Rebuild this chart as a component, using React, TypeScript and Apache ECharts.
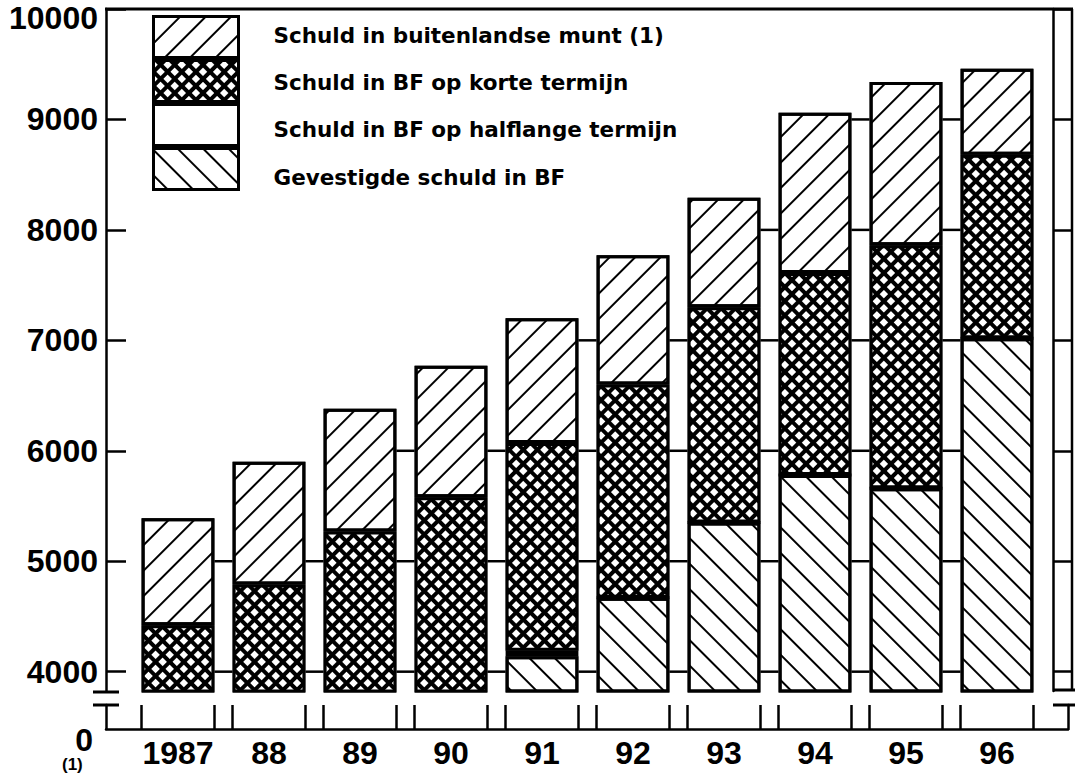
import React, { useEffect, useRef } from 'react';
import * as echarts from 'echarts';

// ---------- data ----------
const categories = ['1987', '88', '89', '90', '91', '92', '93', '94', '95', '96'];
const nameBuiten = 'Schuld in buitenlandse munt (1)';
const nameKort = 'Schuld in BF op korte termijn';
const nameHalf = 'Schuld in BF op halflange termijn';
const nameGevest = 'Gevestigde schuld in BF';
const legendOrder = [nameBuiten, nameKort, nameHalf, nameGevest];

const gevestigde = [3300, 3450, 3600, 3750, 4140, 4670, 5350, 5780, 5660, 7020];
const halflange = [0, 0, 0, 0, 50, 0, 0, 0, 0, 0];
const korte = [1120, 1340, 1670, 1830, 1880, 1930, 1950, 1830, 2200, 1660];
const buitenlandse = [970, 1110, 1110, 1190, 1130, 1170, 990, 1450, 1480, 780];

const yTickValues = [4000, 5000, 6000, 7000, 8000, 9000, 10000];
const zeroTick = [0];
const footnote = '(1)';

// ---------- layout / style ----------
const FONT = 'Liberation Sans';
const LEGEND_FONT = 'DejaVu Sans';
const STROKE = 2.5;
const AXIS_X = 106;
const PLOT_L = 132.5;
const PLOT_R = 1042.5;
const RIGHT_AXIS_X = 1053;
const OUTER_X = 1072;
const TOP_Y = 9;
const MAIN_BOTTOM_Y = 691;
const Y_MIN = 3825;
const Y_MAX = 10000;
const LOWER_TOP_Y = 705;
const BASE_Y = 729;
const BASE_RIGHT_X = 1068;
const BAR_FRAC = 0.8;
const W = 1075;
const H = 776;
// vertical text nudges of legend rows [top, bottom] padding
const LEGEND_PADS = [[0, 4], [2, 0], [8, 0], [16, 0]];

const band = (PLOT_R - PLOT_L) / categories.length;
const c0 = PLOT_L + band / 2;
const xMinLower = -(c0 - AXIS_X) / band;
const xMaxLower = (BASE_RIGHT_X - c0) / band;

const decalSlash = {
  symbol: 'rect', symbolSize: 1, color: '#000', backgroundColor: '#fff',
  dashArrayX: [1, 0], dashArrayY: [2, 16], rotation: -Math.PI / 4,
};
const decalBack = { ...decalSlash, rotation: Math.PI / 4 };
const decalCross = {
  symbol: 'rect', symbolSize: 1, color: '#fff', backgroundColor: '#000',
  dashArrayX: [6, 4], dashArrayY: [6, 4], rotation: Math.PI / 4,
};

function buildOption() {
  const totals = categories.map((_, i) => gevestigde[i] + halflange[i] + korte[i] + buitenlandse[i]);
  const connectorData = categories.slice(0, -1).map((_, i) => [i, Math.min(totals[i], totals[i + 1])]);
  const edgeTicks: number[] = [];
  const centerTicks: number[] = [];
  categories.forEach((_, i) => {
    edgeTicks.push(i - BAR_FRAC / 2, i + BAR_FRAC / 2);
    centerTicks.push(i);
  });

  const barBase = (name: string, data: number[], decal: any, fill: string) => ({
    name,
    type: 'bar',
    stack: 'total',
    xAxisIndex: 0,
    yAxisIndex: 0,
    barWidth: `${BAR_FRAC * 100}%`,
    data,
    z: 3,
    silent: true,
    itemStyle: { color: fill, borderColor: '#000', borderWidth: 3, decal: decal || undefined },
  });

  const labelStyle = { fontFamily: FONT, fontSize: 32, fontWeight: 'bold', color: '#000' };
  const axisLine = { show: true, onZero: false, lineStyle: { color: '#000', width: STROKE } };
  const legendFont = { fontFamily: LEGEND_FONT, fontWeight: 'bold', fontSize: 21.5, color: '#000' };
  const legendRich: Record<string, any> = {};
  LEGEND_PADS.forEach(([t, b], k) => {
    legendRich[`k${k}`] = { ...legendFont, padding: [t, 0, b, 30] };
  });

  return {
    animation: false,
    backgroundColor: '#fff',
    grid: [
      { left: PLOT_L, right: W - PLOT_R, top: TOP_Y, bottom: H - MAIN_BOTTOM_Y },
      { left: AXIS_X, right: W - BASE_RIGHT_X, top: LOWER_TOP_Y, bottom: H - BASE_Y },
    ],
    legend: {
      orient: 'vertical', left: 152, top: 15, padding: 0, itemGap: 0,
      itemWidth: 85, itemHeight: 41, icon: 'rect', selectedMode: false,
      data: legendOrder,
      formatter: (name: string) => `{k${Math.max(0, legendOrder.indexOf(name))}|${name}}`,
      itemStyle: { borderColor: '#000', borderWidth: 3 },
      textStyle: { ...legendFont, rich: legendRich },
    },
    xAxis: [
      {
        type: 'category', gridIndex: 0, data: categories,
        axisLine: { show: false, onZero: false }, axisTick: { show: false }, axisLabel: { show: false }, splitLine: { show: false },
      },
      {
        type: 'value', gridIndex: 1, min: xMinLower, max: xMaxLower,
        axisLine,
        axisTick: { show: true, inside: true, length: BASE_Y - LOWER_TOP_Y, customValues: edgeTicks, lineStyle: { color: '#000', width: STROKE } },
        axisLabel: {
          ...labelStyle, margin: 8, customValues: centerTicks,
          formatter: (v: number) => categories[Math.round(v)] ?? '',
        },
        splitLine: { show: false },
      },
    ],
    yAxis: [
      {
        type: 'value', gridIndex: 0, position: 'left', min: Y_MIN, max: Y_MAX, offset: PLOT_L - AXIS_X,
        axisLine,
        axisTick: { show: true, inside: true, length: 20, customValues: yTickValues, lineStyle: { color: '#000', width: STROKE } },
        axisLabel: {
          ...labelStyle, margin: 8, customValues: yTickValues,
          formatter: (v: number) => (v === Y_MAX ? `{t|${v}}` : `${v}`),
          rich: { t: { ...labelStyle, padding: [18, 0, 0, 0] } },
        },
        splitLine: { show: false },
      },
      {
        type: 'value', gridIndex: 0, position: 'right', min: Y_MIN, max: Y_MAX, offset: RIGHT_AXIS_X - PLOT_R,
        axisLine,
        axisTick: { show: true, inside: false, length: OUTER_X - RIGHT_AXIS_X, customValues: yTickValues, lineStyle: { color: '#000', width: STROKE } },
        axisLabel: { show: false },
        splitLine: { show: false },
      },
      {
        type: 'value', gridIndex: 1, position: 'left', min: 0, max: 1,
        axisLine,
        axisTick: { show: false },
        axisLabel: {
          ...labelStyle, margin: 8, customValues: zeroTick,
          formatter: (v: number) => `{z|${v}}`,
          rich: { z: { ...labelStyle, padding: [22, 5, 0, 0] } },
        },
        splitLine: { show: false },
      },
      {
        type: 'value', gridIndex: 1, position: 'right', min: 0, max: 1,
        axisLine, axisTick: { show: false }, axisLabel: { show: false }, splitLine: { show: false },
      },
    ],
    series: [
      {
        type: 'custom', name: 'gridlines', xAxisIndex: 0, yAxisIndex: 0, silent: true, z: 1,
        data: connectorData,
        renderItem: (params: any, api: any) => {
          const i = api.value(0) as number;
          const lvl = api.value(1) as number;
          const bw = api.size([1, 0])[0];
          const half = (bw * BAR_FRAC) / 2;
          const xa = api.coord([i, Y_MIN])[0] + half;
          const xb = api.coord([i + 1, Y_MIN])[0] - half;
          const children = yTickValues.filter((v) => v <= lvl).map((v) => {
            const y = api.coord([i, v])[1];
            return { type: 'line', shape: { x1: xa, y1: y, x2: xb, y2: y }, style: { stroke: '#000', lineWidth: STROKE } };
          });
          return { type: 'group', children };
        },
      },
      barBase(nameGevest, gevestigde, decalBack, '#fff'),
      barBase(nameHalf, halflange, null, '#fff'),
      barBase(nameKort, korte, decalCross, '#000'),
      barBase(nameBuiten, buitenlandse, decalSlash, '#fff'),
    ],
    graphic: [
      { type: 'line', silent: true, shape: { x1: AXIS_X - 1, y1: TOP_Y, x2: OUTER_X + 1, y2: TOP_Y }, style: { stroke: '#000', lineWidth: 3 } },
      { type: 'line', silent: true, shape: { x1: OUTER_X, y1: TOP_Y, x2: OUTER_X, y2: MAIN_BOTTOM_Y }, style: { stroke: '#000', lineWidth: STROKE } },
      { type: 'line', silent: true, shape: { x1: 93, y1: 692, x2: 119, y2: 692 }, style: { stroke: '#000', lineWidth: 3 } },
      { type: 'line', silent: true, shape: { x1: 93, y1: LOWER_TOP_Y, x2: 119, y2: LOWER_TOP_Y }, style: { stroke: '#000', lineWidth: 3 } },
      { type: 'line', silent: true, shape: { x1: RIGHT_AXIS_X, y1: 690, x2: W, y2: 690 }, style: { stroke: '#000', lineWidth: 3 } },
      { type: 'line', silent: true, shape: { x1: RIGHT_AXIS_X, y1: LOWER_TOP_Y, x2: W, y2: LOWER_TOP_Y }, style: { stroke: '#000', lineWidth: 3 } },
      { type: 'text', silent: true, left: 62, top: 756, style: { text: footnote, font: `bold 17px "${FONT}"`, fill: '#000' } },
    ],
  };
}

export default function App() {
  const ref = useRef<HTMLDivElement>(null);
  useEffect(() => {
    if (!ref.current) return;
    const chart = echarts.init(ref.current, null, { renderer: 'svg' });
    chart.setOption(buildOption() as any);
    return () => chart.dispose();
  }, []);
  return (
    <div
      ref={ref}
      style={{ position: 'fixed', left: 0, top: 0, width: W, height: H, background: '#fff' }}
    />
  );
}
